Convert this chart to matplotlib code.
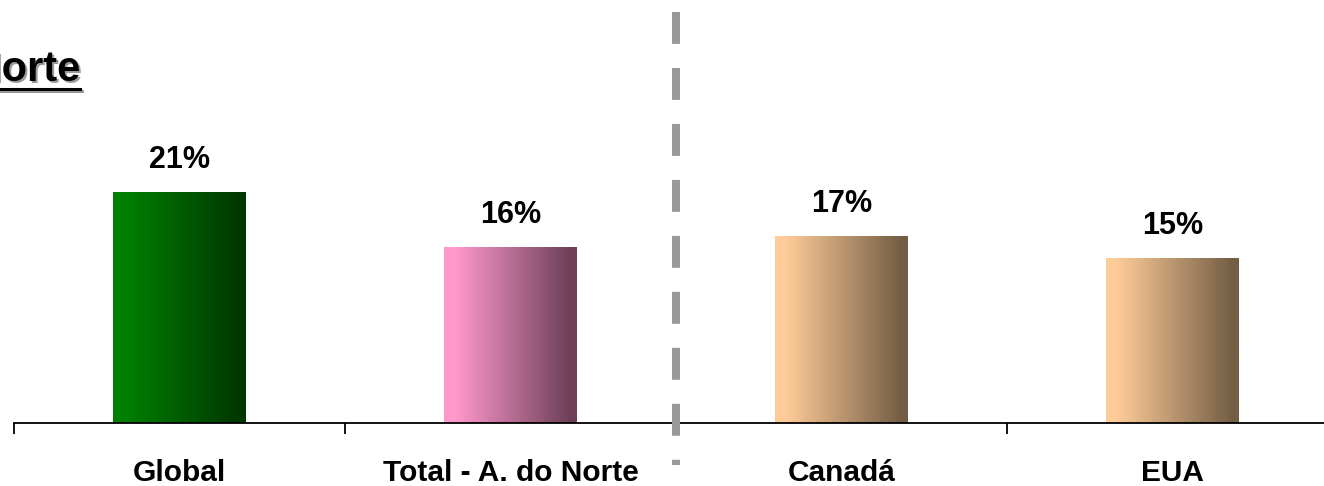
import numpy as np
import matplotlib
matplotlib.use("Agg")
import matplotlib.pyplot as plt
from matplotlib.colors import LinearSegmentedColormap
from matplotlib.lines import Line2D

plt.rcParams['font.family'] = ['Liberation Sans', 'DejaVu Sans']
plt.rcParams['lines.scale_dashes'] = False

categories = ["Global", "Total - A. do Norte", "Canadá", "EUA"]
values = [21, 16, 17, 15]
labels = ["21%", "16%", "17%", "15%"]
grad_colors = [("#008000", "#003800"), ("#FF99CC", "#6E4058"),
               ("#FFCC99", "#735E45"), ("#FFCC99", "#735E45")]
title = "América do Norte"

W, H = 1324, 486
fig = plt.figure(figsize=(W / 100, H / 100), dpi=100)
ax = fig.add_axes([14 / W, 63 / H, 1324 / W, 423 / H])
ax.set_facecolor("none")

bars = ax.bar(range(len(values)), values, width=0.4, facecolor="none",
              edgecolor="none")
for b, (c0, c1) in zip(bars, grad_colors):
    cmap = LinearSegmentedColormap.from_list("g", [(0, c0), (0.08, c0),
                                                    (0.95, c1), (1, c1)])
    grad = np.linspace(0, 1, 256).reshape(1, -1)
    x0, y0 = b.get_x(), b.get_y()
    im = ax.imshow(grad, cmap=cmap, aspect="auto",
                   extent=[x0, x0 + b.get_width(), y0, y0 + b.get_height()],
                   zorder=2)
    im.set_clip_path(b)

ax.set_xlim(-0.5, 3.5)
ax.set_ylim(0, 423 / 11)

for i, (v, lab) in enumerate(zip(values, labels)):
    ax.annotate(lab, xy=(i, v), xytext=(0, 17.3), textcoords="offset points",
                ha="center", va="baseline", fontsize=22, fontweight="bold")
    ax.annotate(categories[i], xy=(i, 0), xycoords=("data", "axes fraction"),
                xytext=(0, -41.5), textcoords="offset points",
                ha="center", va="baseline", fontsize=21.5, fontweight="bold",
                annotation_clip=False)

for s in ["top", "right", "left"]:
    ax.spines[s].set_visible(False)
ax.spines["bottom"].set_linewidth(1.3)
ax.spines["bottom"].set_zorder(3)
ax.set_yticks([])
ax.set_xticks(np.arange(-0.5, 4.0, 1.0))
ax.set_xticklabels([])
ax.tick_params(axis="x", length=8, width=1.3, direction="out")

# dashed separator
ax.plot([1.5, 1.5], [(423 - 12) / 11, (423 - 465) / 11], color="#999999",
        linewidth=5.76, linestyle=(0, (23, 17.3)), solid_capstyle="butt",
        dash_capstyle="butt", clip_on=False, zorder=4)

# title (partly out of frame, as in the source), with shadow and underline
tx, ty = 80 / W, 1 - 81 / H
fig.text(tx + 2 / W, ty - 2 / H, title, ha="right", va="baseline",
         fontsize=30, fontweight="bold", color="#9a9a9a")
fig.text(tx, ty, title, ha="right", va="baseline", fontsize=30,
         fontweight="bold", color="black")
fig.add_artist(Line2D([0, 82 / W], [1 - 91 / H, 1 - 91 / H],
                      color="#9a9a9a", linewidth=2.2,
                      transform=fig.transFigure))
fig.add_artist(Line2D([0, 80 / W], [1 - 89 / H, 1 - 89 / H],
                      color="black", linewidth=2.2,
                      transform=fig.transFigure))

fig.savefig("out.png", dpi=100)
